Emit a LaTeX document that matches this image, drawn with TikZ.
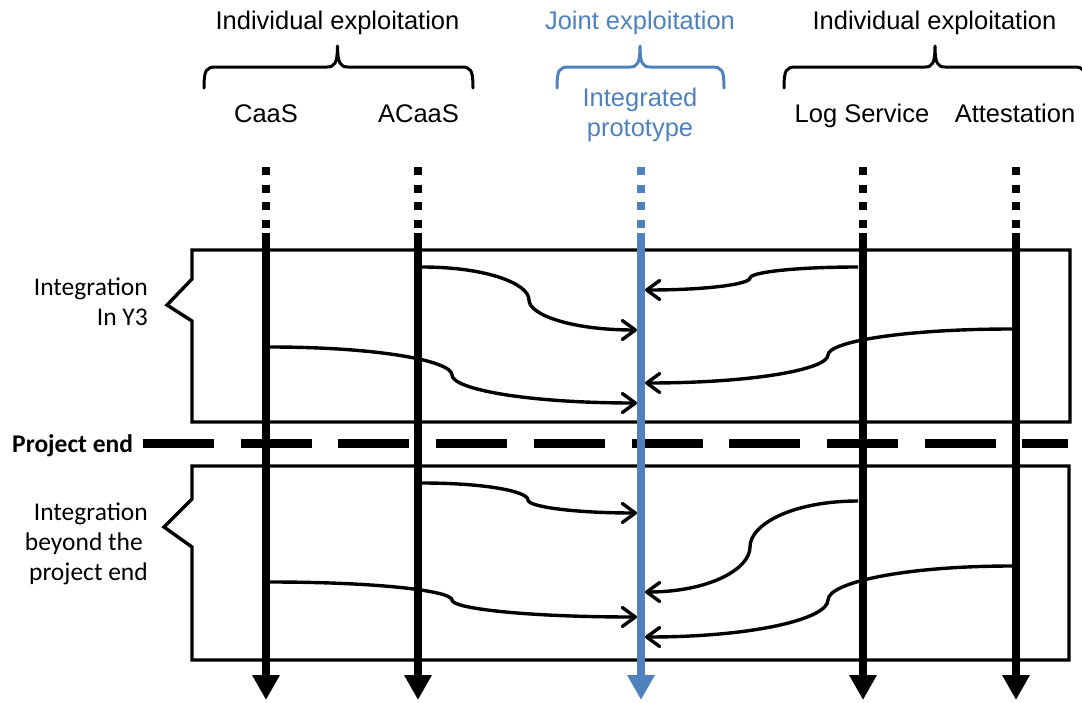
\documentclass[tikz,border=0pt]{standalone}
\usepackage{fontspec}
\setmainfont{Liberation Sans}
\newfontfamily\calibri{Carlito}
\usetikzlibrary{arrows.meta}
\definecolor{ofblue}{HTML}{4F81BD}
\begin{document}
\begin{tikzpicture}[x=1pt,y=-1pt,
  lbl/.style={font=\fontsize{25.5}{30}\selectfont, inner sep=0pt, anchor=base},
  side/.style={font=\calibri\fontsize{25.5}{30}\selectfont, inner sep=0pt, anchor=base east},
  bracestyle/.style={line width=3pt, line cap=round, line join=round},
  boxline/.style={line width=3.4pt, line join=miter},
  timeline/.style={line width=8.5pt, -{Triangle[length=25pt,width=26pt]}},
  dotline/.style={line width=8.5pt, dash pattern=on 8pt off 9.67pt},
  flow/.style={line width=3.4pt, -{Straight Barb[length=13pt,width=19pt,round]}}
]
\useasboundingbox (0,0) rectangle (1082,702);

% top labels
\node[lbl] (ind1) at (337.5,29) {Individual exploitation};
\node[lbl, text=ofblue] (joint) at (640,29) {Joint exploitation};
\node[lbl] (ind2) at (934.5,29) {Individual exploitation};
\node[lbl] (caas) at (266,122) {CaaS};
\node[lbl] (acaas) at (418.5,122) {ACaaS};
\node[lbl, text=ofblue] (integ) at (640,106) {Integrated};
\node[lbl, text=ofblue] (proto) at (640,136) {prototype};
\node[lbl] (log) at (862,122) {Log Service};
\node[lbl] (att) at (1015,122) {Attestation};

% braces
\draw[bracestyle] (204,88) .. controls (204,70) and (206,67) .. (216,67) -- (327,67)
  .. controls (334,67) and (337.5,64) .. (337.5,46) .. controls (337.5,64) and (341,67) .. (348,67)
  -- (461,67) .. controls (471,67) and (473,70) .. (473,88);
\draw[bracestyle, ofblue] (557,88) .. controls (557,70) and (559,67) .. (569,67) -- (630,67)
  .. controls (637,67) and (640,64) .. (640,46) .. controls (640,64) and (643,67) .. (650,67)
  -- (712,67) .. controls (722,67) and (724,70) .. (724,88);
\draw[bracestyle] (784,88) .. controls (784,70) and (786,67) .. (796,67) -- (925,67)
  .. controls (932,67) and (935,64) .. (935,46) .. controls (935,64) and (938,67) .. (945,67)
  -- (1074,67) .. controls (1084,67) and (1086,70) .. (1086,88);

% side labels
\node[side] (l1a) at (148,295) {Integration};
\node[side] (l1b) at (148,325) {In Y3};
\node[side] (l2a) at (148,520) {Integration};
\node[side] (l2b) at (143,550) {beyond the};
\node[side] (l2c) at (148,580) {project end};
\node[font=\calibri\bfseries\fontsize{25.5}{30}\selectfont, inner sep=0pt, anchor=base west] (pend) at (12,452) {Project end};

% boxes
\draw[boxline] (192,250) -- (1070,250) -- (1070,422) -- (192,422) -- (192,321) -- (167,305) -- (192,279) -- cycle;
\draw[boxline] (192,466) -- (1069,466) -- (1069,660) -- (192,660) -- (192,547) -- (164,527) -- (192,499) -- cycle;

% project end line
\coordinate (peA) at (143,443);
\coordinate (peB) at (1068,443);
\draw[line width=9pt, dash pattern=on 71pt off 26.7pt] (peA) -- (peB);

% timelines
\foreach \n/\x/\c in {tc/266/black, ta/418/black, tb/641/ofblue, tl/863/black, tt/1016/black}{
  \coordinate (\n0) at (\x,167);
  \coordinate (\n1) at (\x,229);
  \coordinate (\n2) at (\x,233);
  \coordinate (\n3) at (\x,700);
  \draw[dotline, draw=\c] (\n0) -- (\n1);
  \draw[timeline, draw=\c, fill=\c] (\n2) -- (\n3);
}

% flow arrows (Y3)
\coordinate (a1) at (422,267);  \coordinate (b1) at (637,330);
\draw[flow] (a1) .. controls (486,267) and (529,283.5) .. (529,300) .. controls (529,315) and (572,330) .. (b1);
\coordinate (a2) at (858,267);  \coordinate (b2) at (645,290);
\draw[flow] (a2) .. controls (793,267) and (750,272.5) .. (750,278) .. controls (750,284) and (708,290) .. (b2);
\coordinate (a3) at (270,347);  \coordinate (b3) at (637,403);
\draw[flow] (a3) .. controls (379,347) and (452,361) .. (452,375) .. controls (452,389) and (526,403) .. (b3);
\coordinate (a4) at (1012,329); \coordinate (b4) at (645,383);
\draw[flow] (a4) .. controls (902,329) and (828,342) .. (828,355) .. controls (828,369) and (755,383) .. (b4);

% flow arrows (beyond)
\coordinate (a5) at (422,483);  \coordinate (b5) at (637,513);
\draw[flow] (a5) .. controls (486,483) and (528,491.5) .. (528,500) .. controls (528,506.5) and (572,513) .. (b5);
\coordinate (a6) at (270,582);  \coordinate (b6) at (637,617);
\draw[flow] (a6) .. controls (379,582) and (452,591) .. (452,600) .. controls (452,608.5) and (526,617) .. (b6);
\coordinate (a7) at (858,501);  \coordinate (b7) at (645,592);
\draw[flow] (a7) .. controls (793,501) and (750,524) .. (750,547) .. controls (750,569.5) and (708,592) .. (b7);
\coordinate (a8) at (1012,566); \coordinate (b8) at (645,637);
\draw[flow] (a8) .. controls (902,566) and (828,583) .. (828,600) .. controls (828,618.5) and (755,637) .. (b8);
\end{tikzpicture}
\end{document}
